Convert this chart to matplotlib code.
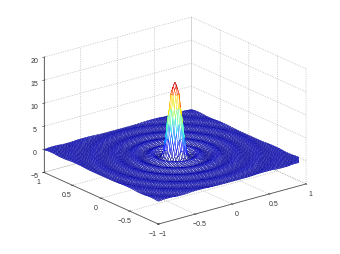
import numpy as np
import matplotlib
matplotlib.use('Agg')
import matplotlib.pyplot as plt

plt.rcParams['font.family'] = ['Liberation Sans', 'DejaVu Sans']
plt.rcParams['grid.linestyle'] = ':'

# height, one value per half grid step going out from the centre
radial_heights = [15.8, 15.6, 15.1, 14.3, 13.3, 12.0, 10.4, 8.7, 7.0, 5.4,
                  3.9, 2.6, 1.5, 0.6, 0.0, -0.3, -0.5, -0.55, -0.5, -0.4,
                  -0.25, -0.1, 0.05, 0.2, 0.3, 0.33, 0.33, 0.3, 0.2, 0.12,
                  0.03, -0.08, -0.15, -0.22, -0.25, -0.25, -0.25, -0.22, -0.15, -0.08,
                  0.0, 0.07, 0.14, 0.18, 0.2, 0.2, 0.2, 0.18, 0.14, 0.07,
                  0.0, -0.07, -0.1, -0.14, -0.16, -0.16, -0.16, -0.14, -0.1, -0.07,
                  0.0, 0.04, 0.07, 0.1, 0.13, 0.13, 0.13, 0.13, 0.1, 0.07,
                  0.04, 0.0, -0.04, -0.07, -0.1, -0.1, -0.12, -0.12, -0.1, -0.1,
                  -0.07, -0.04, 0.0, 0.04, 0.07, 0.07, 0.1, 0.1, 0.1, 0.1,
                  0.1, 0.07, 0.04, 0.0, -0.04, -0.07, -0.07, -0.08, -0.08, -0.08,
                  -0.08, -0.08, -0.07, -0.04, 0.0, 0.04, 0.05, 0.07, 0.08, 0.08,
                  0.08, 0.08, 0.08, 0.07, 0.05, 0.04, 0.0, -0.04, -0.05, -0.07,
                  -0.07, -0.07, -0.07, -0.07, -0.07, -0.05, -0.04, 0.0, 0.04, 0.05,
                  0.07, 0.07, 0.07, 0.07, 0.07, 0.07, 0.05, 0.04, 0.0, -0.04,
                  -0.05, -0.05, -0.05]
grid_lines = 101
xy_ticks = [-1, -0.5, 0, 0.5, 1]
z_ticks = [-5, 0, 5, 10, 15, 20]

fig = plt.figure(figsize=(3.4, 2.55), dpi=100)
ax = fig.add_axes([1.5 / 340, 2.5 / 255, 1.0, 1.0], projection='3d', proj_type='ortho')
ax.patch.set_alpha(0)

x = np.linspace(-1, 1, grid_lines)
X, Y = np.meshgrid(x, x)
steps = np.rint(np.hypot(X, Y) * (grid_lines - 1)).astype(int)
Z = np.array(radial_heights)[steps]

face_z = Z[:-1, :-1]
colors = plt.cm.jet((face_z - Z.min()) / (Z.max() - Z.min()))
white = np.ones_like(colors)

surf = ax.plot_surface(X, Y, Z, rstride=1, cstride=1, facecolors=white, shade=False,
                       linewidth=0.33, antialiased=True)
surf.set_edgecolors(colors.reshape(-1, 4))

ax.view_init(elev=20.5, azim=-127.8)
ax.set_box_aspect((187, 187, 123), zoom=1.11)
ax.set_xlim(-1, 1, view_margin=0)
ax.set_ylim(-1, 1, view_margin=0)
ax.set_zlim(-5, 20, view_margin=0)
ax.set_xticks(xy_ticks)
ax.set_yticks(xy_ticks)
ax.set_zticks(z_ticks)
ax.set_xticklabels(['\u22121', '\u22120.5', '0', '0.5', '1'])
ax.set_yticklabels(['\u22121', '\u22120.5', '0', '0.5', '1'])
ax.set_zticklabels(['\u22125', '0', '5', '10', '15', '20'])

for axis in (ax.xaxis, ax.yaxis, ax.zaxis):
    axis.set_pane_color((1, 1, 1, 0))
    axis.pane.set_edgecolor((1, 1, 1, 0))
    axis.line.set_color('#555555')
    axis.line.set_linewidth(0.6)
    axis._axinfo['grid'].update(color='#aaaaaa', linewidth=0.5, linestyle=':')
    axis._axinfo['tick'].update(inward_factor=0.1, outward_factor=0.1)
    axis._axinfo['tick']['linewidth'] = {True: 0.4, False: 0.4}
ax.tick_params(labelsize=5, pad=-4.5, colors='#333333', length=2)

fig.savefig('out.png', dpi=100)
